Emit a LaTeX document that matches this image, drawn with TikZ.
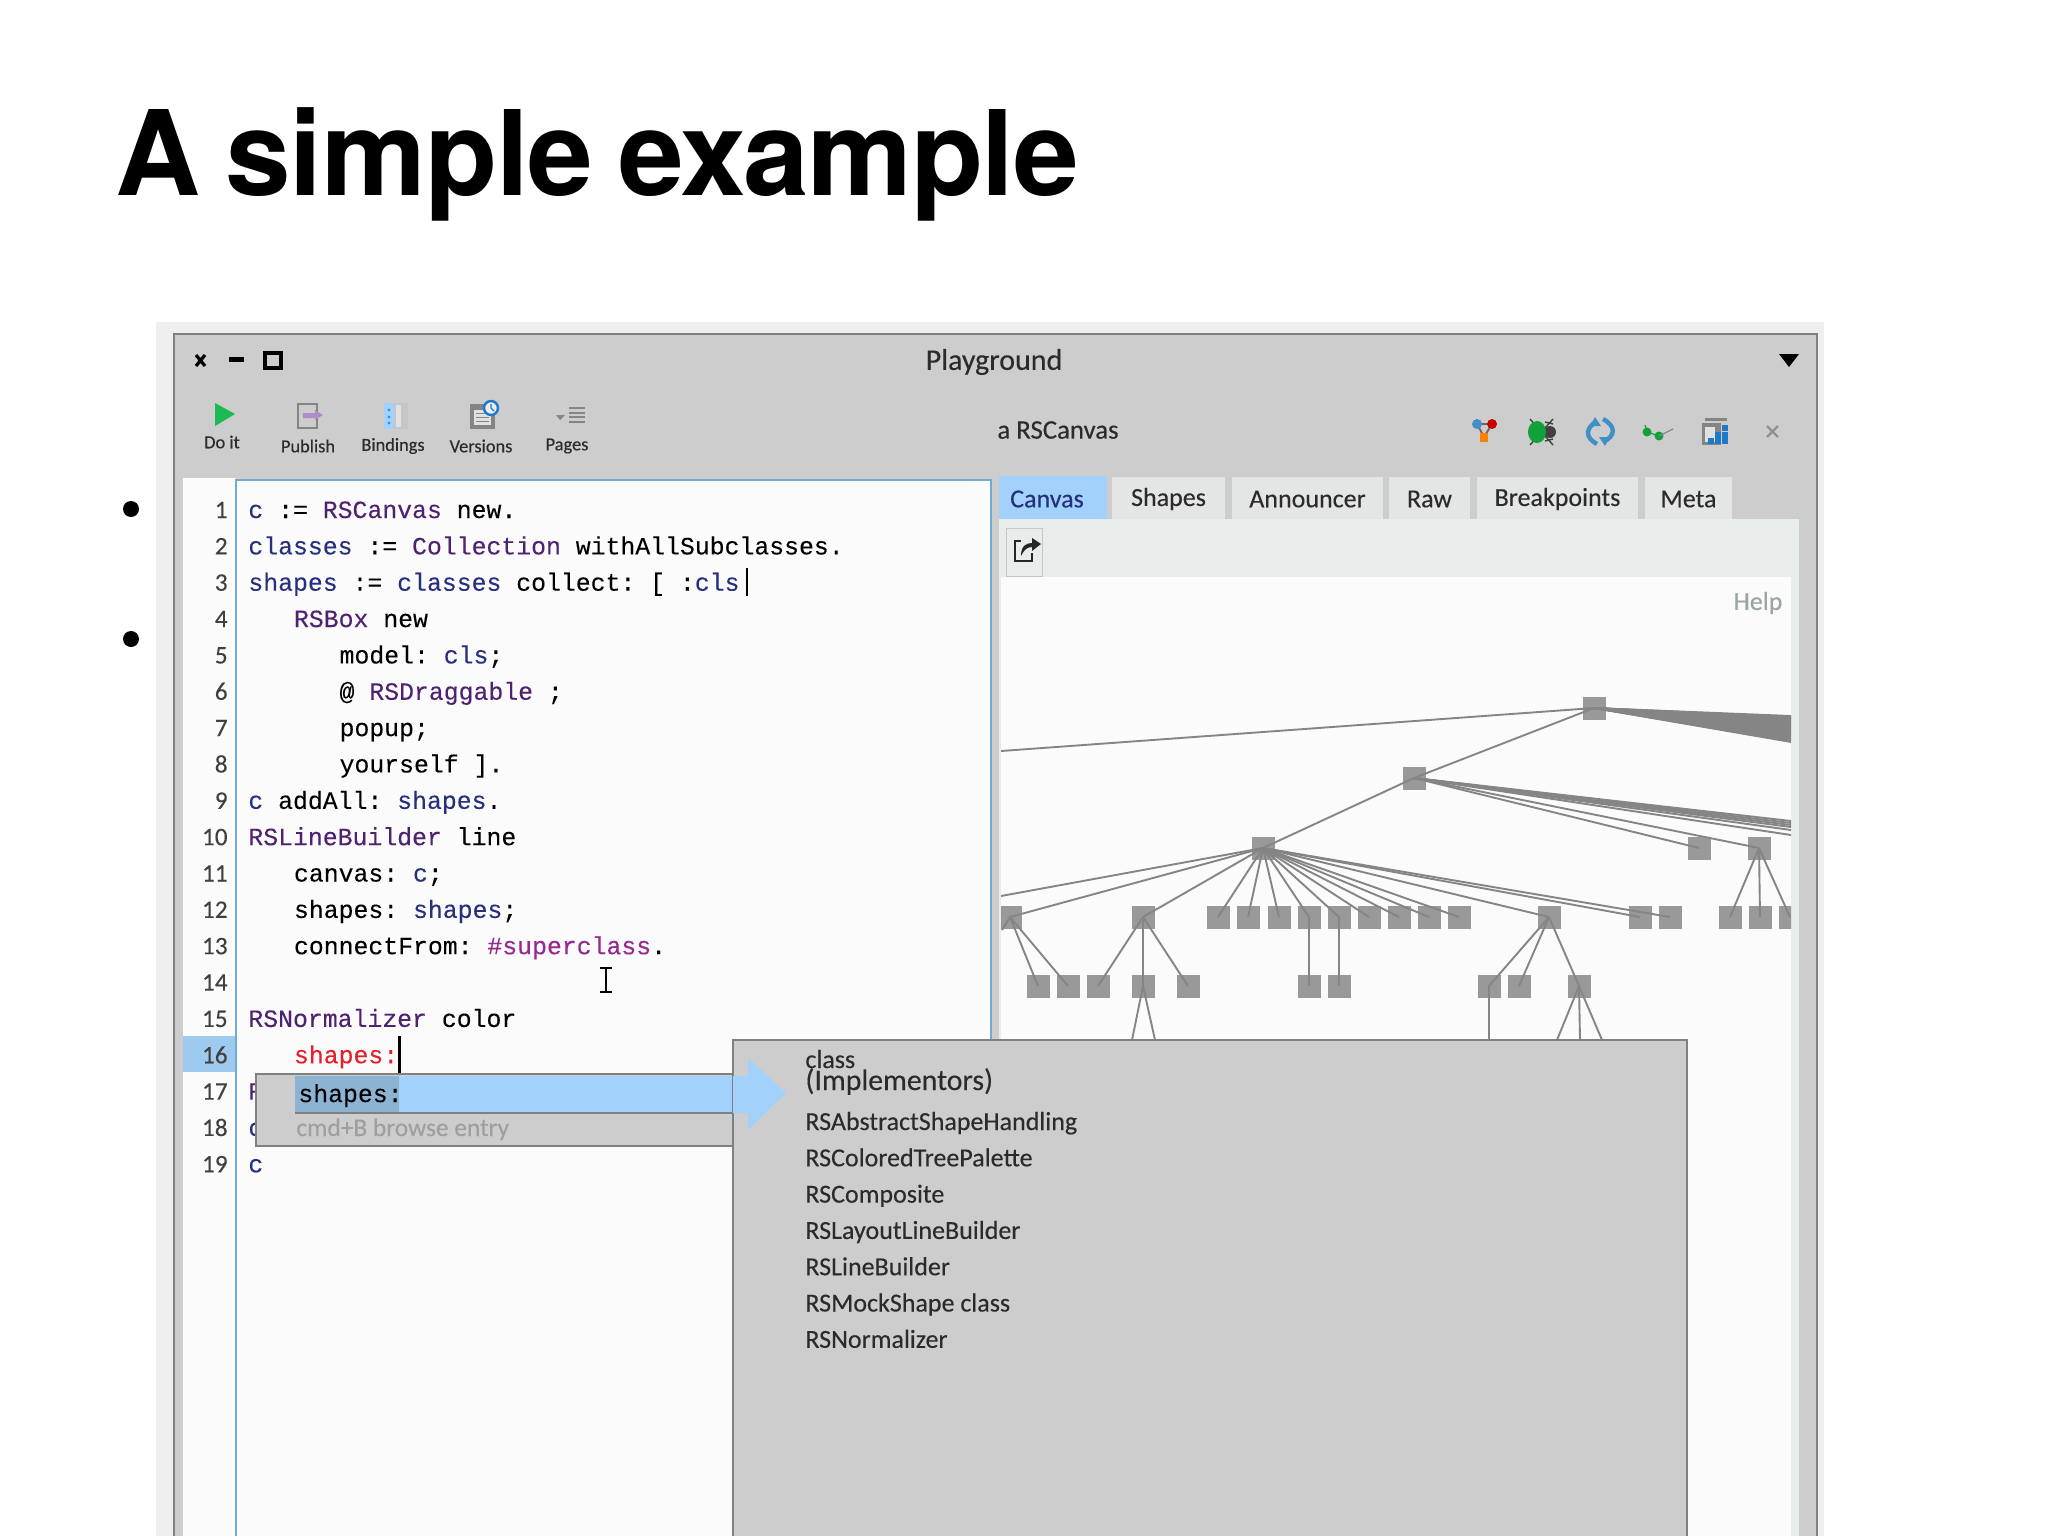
\documentclass[tikz,border=0pt]{standalone}
\usepackage{fontspec}
\setmonofont[FakeBold=0.12]{Liberation Mono}
\newfontfamily\uifont[FakeBold=0.25]{Carlito}
\newfontfamily\titlefont[LetterSpace=-1.2,WordSpace=0.8]{TeX Gyre Heros}
\definecolor{winfill}{HTML}{CDCDCD}
\definecolor{winline}{HTML}{808080}
\definecolor{shadowfill}{HTML}{EFEFEF}
\definecolor{edfill}{HTML}{FBFBFB}
\definecolor{edline}{HTML}{73A9D2}
\definecolor{tabfill}{HTML}{E3E6E4}
\definecolor{panelfill}{HTML}{E8ECEA}
\definecolor{selfill}{HTML}{A2D2FB}
\definecolor{seldark}{HTML}{8DB3D3}
\definecolor{boxfill}{HTML}{999999}
\definecolor{edgeline}{HTML}{858585}
\definecolor{varcol}{HTML}{26307F}
\definecolor{clscol}{HTML}{4E2270}
\definecolor{symcol}{HTML}{96288F}
\definecolor{errcol}{HTML}{E3202C}
\definecolor{uitext}{HTML}{2B2B2B}
\definecolor{helpcol}{HTML}{9AA69F}
\definecolor{playcol}{HTML}{1DB954}
\definecolor{iconcol}{HTML}{858585}
\definecolor{pushcol}{HTML}{B08CC8}
\definecolor{synccol}{HTML}{3F8FC8}
\definecolor{bugcol}{HTML}{12A03C}
\definecolor{cellcol}{HTML}{1F78C8}
\newcommand{\varc}[1]{\textcolor{varcol}{#1}}
\newcommand{\clsc}[1]{\textcolor{clscol}{#1}}
\newcommand{\symc}[1]{\textcolor{symcol}{#1}}
\newcommand{\errc}[1]{\textcolor{errcol}{#1}}
\begin{document}
\begin{tikzpicture}[x=0.5pt,y=-0.5pt]
  \tikzstyle{ui}=[inner sep=0pt,text=uitext,font=\uifont\fontsize{13}{15}\selectfont]
  \tikzstyle{small ui}=[ui,font=\uifont\fontsize{9.2}{11}\selectfont]
  \tikzstyle{code}=[inner sep=0pt,anchor=base west,text=black,font=\ttfamily\fontsize{12.4}{14}\selectfont]
  \tikzstyle{box}=[rectangle,fill=boxfill,minimum size=11.5pt,inner sep=0pt]
  \tikzstyle{edge}=[edgeline,line width=0.95pt]
  \tikzstyle{popup}=[fill=winfill,draw=winline,line width=0.8pt]
  \useasboundingbox (0,0) rectangle (2048,1536);
  \fill[white] (0,0) rectangle (2048,1536);
  \node[anchor=base west,inner sep=0pt,font=\titlefont\bfseries\fontsize{59}{70}\selectfont] (title) at (115,195) {A simple example};
  \foreach \y [count=\i] in {509,639}
    \node[circle,fill=black,minimum size=8pt,inner sep=0pt] (bullet\i) at (131,\y) {};
  \fill[shadowfill] (156,322) rectangle (1824,1536);
  \draw[fill=winfill,draw=winline,line width=0.8pt] (174,1536) -- (174,334) -- (1817,334) -- (1817,1536);
  % title bar
  \draw[black,line width=1.6pt] (196,355) -- (205,366) (205,355) -- (196,366);
  \fill[black] (229,357) rectangle (244,362);
  \draw[line width=1.6pt] (265,353) rectangle (281,368);
  \node[ui,font=\uifont\fontsize{15}{17}\selectfont] (wintitle) at (994,362) {Playground};
  \fill[black] (1779,354) -- (1799,354) -- (1789,367) -- cycle;
  % toolbar
  \foreach \x/\y/\t in {222/442/Do it,308/446/Publish,393/446/Bindings,481/446/Versions,567/446/Pages}
    \node[small ui] (tool\t) at (\x,\y) {\t};
  \fill[playcol] (215,403) -- (235,414) -- (215,426) -- cycle;
  \draw[iconcol,line width=1.2pt] (298,404) rectangle (317,428);
  \fill[pushcol] (303,413) -- (315,413) -- (315,410) -- (323,415) -- (315,420) -- (315,418) -- (303,418) -- cycle;
  \fill[gray!45] (384,403) rectangle (408,429);
  \fill[winfill!60!white] (396,405) rectangle (401,427);
  \fill[selfill] (384,403) rectangle (394,429);
  \foreach \y in {410,417,423}
    \fill[synccol] (389,\y) circle (1.7);
  \fill[iconcol] (470,404) rectangle (495,429);
  \fill[winfill!60!white] (474,410) rectangle (491,425);
  \foreach \y in {413,417,421}
    \draw[iconcol,line width=0.5pt] (476,\y) -- (489,\y);
  \draw[cellcol,fill=winfill!40!white,line width=1.2pt] (491,408) circle (7);
  \draw[cellcol,line width=0.7pt] (491,404) -- (491,408) -- (494,411);
  \fill[iconcol] (556,415) -- (565,415) -- (560,420) -- cycle;
  \foreach \y in {408,413,417,422}
    \draw[iconcol,line width=0.7pt] (569,\y) -- (585,\y);
  \node[ui,font=\uifont\fontsize{13.4}{15}\selectfont] (inspected) at (1058,430) {a RSCanvas};
  \draw[black!60,line width=0.9pt] (1477,424) -- (1492,424) -- (1484,437) -- cycle;
  \fill[orange] (1480,433) rectangle (1488,442);
  \fill[synccol] (1477,424) circle (5);
  \fill[red!80!black] (1492,424) circle (5);
  \draw[black!75,line width=0.7pt] (1530,419) -- (1553,445) (1530,445) -- (1553,419) (1545,422) -- (1553,424) (1545,441) -- (1553,439);
  \fill[black!75] (1550,432) circle (6);
  \fill[bugcol] (1537,432) ellipse (9 and 11);
  \draw[synccol,line width=2.2pt] (1597,421) .. controls (1585,428) and (1585,438) .. (1597,444);
  \draw[synccol,line width=2.2pt] (1603,419) .. controls (1616,426) and (1616,436) .. (1603,442);
  \fill[synccol] (1595,417) -- (1601,426) -- (1590,426) -- cycle;
  \fill[synccol] (1605,446) -- (1599,437) -- (1610,437) -- cycle;
  \fill[bugcol] (1647,432) circle (4.5);
  \fill[bugcol] (1659,436) circle (4.5);
  \draw[bugcol,line width=0.6pt] (1645,425) -- (1647,432) -- (1659,436);
  \draw[iconcol,line width=0.6pt] (1659,436) -- (1673,429);
  \fill[iconcol] (1705,418) rectangle (1727,421);
  \fill[iconcol] (1702,423) rectangle (1721,445);
  \fill[winfill!60!white] (1705,427) rectangle (1715,442);
  \foreach \x/\y in {1708/438,1715/438,1722/438,1715/432,1722/432,1722/425}
    \fill[cellcol] (\x,\y) rectangle ++(6,6);
  \draw[iconcol!90,line width=1.2pt] (1767,426) -- (1778,437) (1778,426) -- (1767,437);
  % editor
  \fill[edfill] (183,478) rectangle (236,1536);
  \fill[edfill] (236,480) rectangle (991,1536);
  \draw[edline,line width=1pt] (236,1536) -- (236,480) -- (991,480) -- (991,1536);
  \fill[selfill!90!gray] (183,1036) rectangle (235,1072);
  \foreach \n in {1,...,19}
    \node[ui,anchor=base east,font=\uifont\fontsize{12.6}{14}\selectfont,text=black!75] (num\n) at (228,{518+(\n-1)*36.35}) {\n};
  \foreach \n/\c/\t in {1/0/{\varc{c} := \clsc{RSCanvas} new.},
    2/0/{\varc{classes} := \clsc{Collection} withAllSubclasses.},
    3/0/{\varc{shapes} := \varc{classes} collect: [ :\varc{cls}},
    4/3/{\clsc{RSBox} new},
    5/6/{model: \varc{cls};},
    6/6/{@ \clsc{RSDraggable} ;},
    7/6/{popup;},
    8/6/{yourself ].},
    9/0/{\varc{c} addAll: \varc{shapes}.},
    10/0/{\clsc{RSLineBuilder} line},
    11/3/{canvas: \varc{c};},
    12/3/{shapes: \varc{shapes};},
    13/3/{connectFrom: \symc{\#superclass}.},
    15/0/{\clsc{RSNormalizer} color},
    16/3/{\errc{shapes:}},
    17/0/{\clsc{R}},
    18/0/{\varc{c}},
    19/0/{\varc{c}}}
    \node[code] (line\n) at ({248+\c*15.2},{518+(\n-1)*36.35}) {\t};
  \draw[black,line width=0.7pt] (747,568) -- (747,596);
  \draw[black,line width=0.6pt] (600,968) -- (612,968) (606,968) -- (606,992) (600,992) -- (612,992);
  \draw[black,line width=1.5pt] (399,1036) -- (399,1074);
  % right pane
  \foreach \a/\b/\t in {1112/1225/Shapes,1232/1383/Announcer,1389/1470/Raw,1477/1638/Breakpoints,1645/1732/Meta} {
    \fill[tabfill] (\a,477) rectangle (\b,519);
    \node[ui] (tab\t) at ({(\a+\b)/2},499) {\t};
  }
  \fill[selfill] (999,476) rectangle (1107,519);
  \node[ui,text=varcol] (tabCanvas) at (1047,499) {Canvas};
  \fill[panelfill] (999,519) rectangle (1799,1536);
  \draw[gray!45,line width=0.5pt] (1006,528) rectangle (1042,576);
  \draw[black!85,line width=1.1pt] (1021,541) -- (1015,541) -- (1015,561) -- (1032,561) -- (1032,553);
  \fill[black!85] (1021,556) .. controls (1021,546) and (1026,543) .. (1032,543) -- (1032,538) -- (1041,544) -- (1032,551) -- (1032,547) .. controls (1027,547) and (1024,550) .. (1021,556) -- cycle;
  \fill[edfill] (1001,577) rectangle (1791,1536);
  \node[ui,text=helpcol] (help) at (1758,603) {Help};
  \begin{scope}
    \clip (1001,577) rectangle (1791,1536);
    \node[box] (root) at (1594,708) {};
    \node[box] (mid) at (1414,778) {};
    \node[box] (hub) at (1263,848) {};
    \node[box] (p1699) at (1699,848) {};
    \node[box] (p1759) at (1759,848) {};
    \foreach \x in {1010,1143,1218,1248,1279,1309,1339,1369,1399,1429,1459,1549,1640,1670,1730,1760,1790}
      \node[box] (a\x) at (\x,917) {};
    \foreach \x in {1038,1068,1098,1143,1188,1309,1339,1489,1519,1579}
      \node[box] (b\x) at (\x,986) {};
    \coordinate (offtop) at (1001,751);
    \coordinate (offhub) at (1001,896);
    \coordinate (offdown) at (1002,930);
    \draw[edge] (root.center) -- (offtop);
    \draw[edge] (root.center) -- (mid.center);
    \draw[edge] (mid.center) -- (hub.center);
    \foreach \y in {716,717,...,742} {
      \coordinate (fan\y) at (1791,\y);
      \draw[edge] (root.center) -- (fan\y);
    }
    \foreach \y in {821,823,825,827,830,835} {
      \coordinate (midfan\y) at (1791,\y);
      \draw[edge] (mid.center) -- (midfan\y);
    }
    \draw[edge] (mid.center) -- (p1699.center);
    \draw[edge] (mid.center) -- (p1759.center);
    \draw[edge] (hub.center) -- (offhub);
    \foreach \x in {1010,1143,1218,1248,1279,1309,1339,1369,1399,1429,1459,1549,1640,1670}
      \draw[edge] (hub.center) -- (a\x.center);
    \draw[edge] (a1010.center) -- (offdown);
    \foreach \x/\y in {1010/1038,1010/1068,1143/1098,1143/1143,1143/1188,1309/1309,1339/1339,1549/1489,1549/1519,1549/1579}
      \draw[edge] (a\x.center) -- (b\y.center);
    \foreach \x in {1730,1760,1790}
      \draw[edge] (p1759.center) -- (a\x.center);
    \foreach \x/\y/\e in {1143/1132/l,1143/1155/r,1489/1489/m,1579/1557/p,1579/1580/q,1579/1602/s} {
      \coordinate (under\e) at (\y,1040);
      \draw[edge] (b\x.center) -- (under\e);
    }
  \end{scope}
  % popups
  \draw[popup] (256,1074) rectangle (733,1146);
  \fill[selfill] (295,1076) rectangle (733,1113);
  \fill[seldark] (295,1076) rectangle (399,1113);
  \draw[winline,line width=0.8pt] (295,1113) -- (733,1113);
  \node[code] (entry) at (298,1102) {shapes:};
  \node[ui,anchor=base west,text=gray!75,font=\uifont\fontsize{12.7}{15}\selectfont] (browse) at (296,1136) {cmd+B browse entry};
  \draw[popup] (733,1536) -- (733,1040) -- (1687,1040) -- (1687,1536);
  \fill[selfill] (733,1076) -- (748,1076) -- (748,1058) -- (786,1093) -- (748,1130) -- (748,1113) -- (733,1113) -- cycle;
  \node[ui,anchor=base west] (kind) at (805,1068) {class};
  \node[ui,anchor=base west,font=\uifont\fontsize{14.9}{17}\selectfont] (impl) at (805,1090) {(Implementors)};
  \foreach \t [count=\i from 0] in {RSAbstractShapeHandling,RSColoredTreePalette,RSComposite,RSLayoutLineBuilder,RSLineBuilder,RSMockShape class,RSNormalizer}
    \node[ui,anchor=base west] (impl\i) at (805,{1130+\i*36.3}) {\t};
\end{tikzpicture}
\end{document}
